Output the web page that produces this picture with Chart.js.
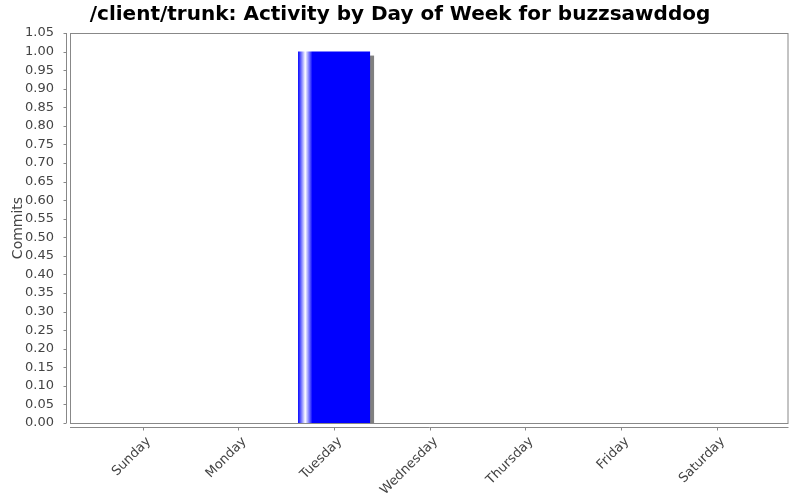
<!DOCTYPE html>
<html>
<head>
<meta charset="utf-8">
<script src="https://cdn.jsdelivr.net/npm/chart.js@4.4.0/dist/chart.umd.min.js"></script>
<style>
  html, body { margin: 0; padding: 0; background: #fff; }
  #wrap { width: 800px; height: 500px; }
</style>
</head>
<body>
<div id="wrap"><canvas id="myChart" width="800" height="500"></canvas></div>
<script>
// dados do grafico
var days = ['Sunday', 'Monday', 'Tuesday', 'Wednesday', 'Thursday', 'Friday', 'Saturday'];
var commits = [0, 0, 1, 0, 0, 0, 0];
var yTicks = { min: 0, max: 1.05, step: 0.05 };

var axisColor = '#888888';
var textColor = '#444444';

// sombra das barras e eixos deslocados (estilo JFreeChart)
var plotDecor = {
  id: 'plotDecor',
  beforeDatasetsDraw: function (chart) {
    var ctx = chart.ctx;
    var area = chart.chartArea;
    var meta = chart.getDatasetMeta(0);
    ctx.save();
    ctx.beginPath();
    ctx.rect(area.left, area.top, area.right - area.left, area.bottom - area.top);
    ctx.clip();
    ctx.fillStyle = '#808080';
    meta.data.forEach(function (bar) {
      var p = bar.getProps(['x', 'y', 'base', 'width'], true);
      if (Math.abs(p.base - p.y) < 0.5) return;
      ctx.fillRect(p.x - p.width / 2 + 4, p.y + 4, p.width, p.base - p.y);
    });
    ctx.restore();
  },
  afterDraw: function (chart) {
    var ctx = chart.ctx;
    var area = chart.chartArea;
    var xs = chart.scales.x;
    var ys = chart.scales.y;
    ctx.save();
    ctx.strokeStyle = axisColor;
    ctx.lineWidth = 1;
    // contorno da area do grafico
    ctx.strokeRect(area.left + 0.5, area.top + 0.5, area.right - area.left - 1, area.bottom - area.top);
    // eixo y
    var ax = Math.round(area.left - 4) + 0.5;
    ctx.beginPath();
    ctx.moveTo(ax, area.top);
    ctx.lineTo(ax, area.bottom);
    ys.ticks.forEach(function (t, i) {
      var py = Math.round(ys.getPixelForTick(i)) + 0.5;
      ctx.moveTo(ax - 3, py);
      ctx.lineTo(ax, py);
    });
    // eixo x
    var ay = Math.round(area.bottom + 4) + 0.5;
    ctx.moveTo(area.left, ay);
    ctx.lineTo(area.right, ay);
    xs.ticks.forEach(function (t, i) {
      var px = Math.round(xs.getPixelForTick(i)) + 0.5;
      ctx.moveTo(px, ay);
      ctx.lineTo(px, ay + 3);
    });
    ctx.stroke();
    ctx.restore();
  }
};

function barGradient(context) {
  var chart = context.chart;
  if (!chart.chartArea) return '#0000ff';
  var xs = chart.scales.x;
  var cx = xs.getPixelForValue(context.raw.x);
  var w = (xs.getPixelForValue(1) - xs.getPixelForValue(0)) * 0.753;
  var x0 = cx - w / 2;
  var g = chart.ctx.createLinearGradient(x0, 0, x0 + w, 0);
  g.addColorStop(0, '#0000ff');
  g.addColorStop(0.10, '#ffffff');
  g.addColorStop(0.20, '#0000ff');
  g.addColorStop(1, '#0000ff');
  return g;
}

var ctx = document.getElementById('myChart');
var myChart = new Chart(ctx, {
  type: 'bar',
  data: {
    datasets: [{
      label: 'Commits',
      data: days.map(function (d, i) { return { x: i, y: commits[i] }; }),
      backgroundColor: barGradient,
      borderWidth: 0,
      barPercentage: 0.753,
      categoryPercentage: 1
    }]
  },
  options: {
    responsive: false,
    animation: false,
    layout: { padding: 0 },
    plugins: {
      legend: { display: false },
      tooltip: { enabled: false },
      title: {
        display: true,
        text: '/client/trunk: Activity by Day of Week for buzzsawddog',
        color: '#000000',
        font: { family: 'DejaVu Sans', size: 20, weight: 'bold' },
        padding: { top: 3, bottom: 6 }
      }
    },
    scales: {
      x: {
        type: 'linear',
        offset: false,
        min: -0.76,
        max: 6.75,
        grid: { display: false },
        border: { display: false },
        afterFit: function (scale) { scale.height = 77; },
        ticks: {
          stepSize: 1,
          includeBounds: false,
          autoSkip: false,
          minRotation: 45,
          maxRotation: 45,
          padding: 3,
          labelOffset: 6,
          color: textColor,
          font: { family: 'DejaVu Sans', size: 13 },
          callback: function (v) { return days[v] !== undefined ? days[v] : ''; }
        }
      },
      y: {
        min: yTicks.min,
        max: yTicks.max,
        grid: { display: false },
        border: { display: false },
        afterFit: function (scale) { scale.width = 70; },
        title: {
          display: true,
          text: 'Commits',
          color: textColor,
          font: { family: 'DejaVu Sans', size: 14 },
          padding: { top: 10, bottom: 0 }
        },
        ticks: {
          stepSize: yTicks.step,
          autoSkip: false,
          padding: 8,
          color: textColor,
          font: { family: 'DejaVu Sans', size: 13 },
          callback: function (v) { return v.toFixed(2); }
        }
      },
      // margem direita da area do grafico
      yRight: {
        position: 'right',
        display: true,
        grid: { display: false },
        border: { display: false },
        ticks: { display: false },
        afterFit: function (scale) { scale.width = 11.5; }
      }
    }
  },
  plugins: [plotDecor]
});
</script>
</body>
</html>
